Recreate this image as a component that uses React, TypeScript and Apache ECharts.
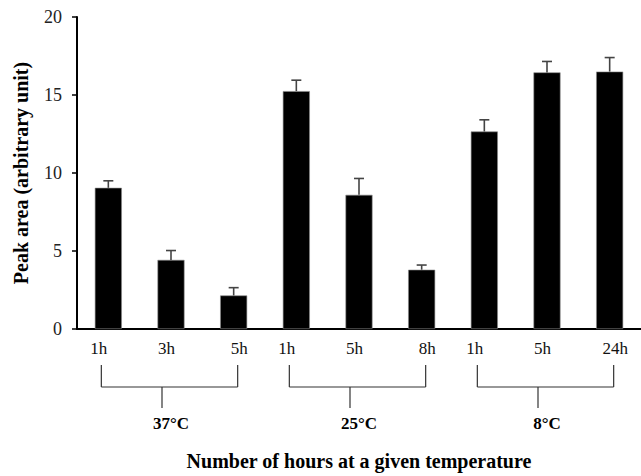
import React, { useEffect, useRef } from "react";
import * as echarts from "echarts";

const categories = ["1h", "3h", "5h", "1h", "5h", "8h", "1h", "5h", "24h"];
const peakArea = [9.05, 4.43, 2.15, 15.25, 8.6, 3.8, 12.66, 16.45, 16.5];
const errorUpper = [0.45, 0.6, 0.5, 0.7, 1.05, 0.3, 0.75, 0.7, 0.9];
const groupLabels = ["37°C", "25°C", "8°C"];
const groupMembers = [
  [0, 1, 2],
  [3, 4, 5],
  [6, 7, 8],
];
const yMin = 0;
const yMax = 20;
const yInterval = 5;
const yTitle = "Peak area (arbitrary unit)";
const xTitle = "Number of hours at a given temperature";

const SERIF = "'Liberation Serif', 'Times New Roman', serif";

export default function App() {
  const ref = useRef<HTMLDivElement>(null);

  useEffect(() => {
    document.body.style.margin = "0";
    if (!ref.current) return;
    const chart = echarts.init(ref.current, undefined, { renderer: "svg" });
    const labelCls = ["a", "b", "c"];
    const option: any = {
      animation: false,
      backgroundColor: "#ffffff",
      grid: { left: 77, top: 17, width: 572, height: 316, containLabel: false },
      xAxis: {
        type: "category",
        data: categories,
        axisLine: { show: true, lineStyle: { color: "#000", width: 2 } },
        axisTick: { show: false },
        axisLabel: {
          interval: 0,
          hideOverlap: false,
          margin: 11,
          color: "#111",
          fontFamily: SERIF,
          fontSize: 17,
          formatter: (v: string, i: number) => `{${labelCls[i % 3]}|${v}}`,
          rich: {
            a: { fontFamily: SERIF, fontSize: 17, color: "#111", padding: [0, 19, 0, 0] },
            b: { fontFamily: SERIF, fontSize: 17, color: "#111", padding: [0, 9, 0, 0] },
            c: { fontFamily: SERIF, fontSize: 17, color: "#111", padding: [0, 0, 0, 11] },
          },
        },
        name: xTitle,
        nameLocation: "middle",
        nameGap: 122,
        nameTextStyle: { fontFamily: SERIF, fontSize: 20, fontWeight: "bold", color: "#000" },
      },
      yAxis: {
        type: "value",
        min: yMin,
        max: yMax,
        interval: yInterval,
        splitLine: { show: false },
        axisLine: { show: true, lineStyle: { color: "#000", width: 2 } },
        axisTick: { show: true, inside: false, length: 5, lineStyle: { color: "#000", width: 1.5 } },
        axisLabel: { margin: 15, color: "#222", fontFamily: SERIF, fontSize: 18 },
        name: yTitle,
        nameLocation: "middle",
        nameGap: 46,
        nameRotate: 90,
        nameTextStyle: { fontFamily: SERIF, fontSize: 20, fontWeight: "bold", color: "#000" },
      },
      series: [
        {
          type: "bar",
          data: peakArea,
          barWidth: 27,
          itemStyle: { color: "#000", borderColor: "#888", borderWidth: 0.6 },
          z: 2,
        },
        {
          type: "custom",
          z: 3,
          data: peakArea.map((v, i) => [i, v, errorUpper[i]]),
          renderItem: (_params: any, api: any) => {
            const x = api.value(0);
            const v = api.value(1);
            const e = api.value(2);
            const base = api.coord([x, v]);
            const top = api.coord([x, v + e]);
            const half = 5;
            const st = { stroke: "#444", lineWidth: 1.6 };
            return {
              type: "group",
              children: [
                { type: "line", shape: { x1: base[0], y1: base[1], x2: top[0], y2: top[1] }, style: st },
                { type: "line", shape: { x1: top[0] - half, y1: top[1], x2: top[0] + half, y2: top[1] }, style: st },
              ],
            };
          },
        },
      ],
    };
    chart.setOption(option);

    const axisY = chart.convertToPixel({ yAxisIndex: 0 }, 0) as number;
    const px = (i: number) => chart.convertToPixel({ xAxisIndex: 0 }, i) as number;
    const lineStyle = { stroke: "#333", lineWidth: 1.2 };
    const graphics: any[] = [];
    groupMembers.forEach((members, g) => {
      const left = px(members[0]) - 7;
      const right = px(members[members.length - 1]) + 4;
      const mid = px(members[Math.floor(members.length / 2)]);
      const yTop = axisY + 36;
      const yBar = axisY + 58;
      const yStem = axisY + 79;
      graphics.push({ type: "line", silent: true, shape: { x1: left, y1: yTop, x2: left, y2: yBar }, style: lineStyle });
      graphics.push({ type: "line", silent: true, shape: { x1: right, y1: yTop, x2: right, y2: yBar }, style: lineStyle });
      graphics.push({ type: "line", silent: true, shape: { x1: left, y1: yBar, x2: right, y2: yBar }, style: lineStyle });
      graphics.push({ type: "line", silent: true, shape: { x1: mid - 9, y1: yBar, x2: mid - 9, y2: yStem }, style: lineStyle });
      graphics.push({
        type: "text",
        silent: true,
        x: mid,
        y: axisY + 94,
        style: {
          text: groupLabels[g],
          font: `bold 17px ${SERIF}`,
          fill: "#000",
          align: "center",
          verticalAlign: "middle",
          textAlign: "center",
          textVerticalAlign: "middle",
        },
      });
    });
    chart.setOption({ graphic: graphics });

    return () => chart.dispose();
  }, []);

  return <div ref={ref} style={{ width: 641, height: 476 }} />;
}
